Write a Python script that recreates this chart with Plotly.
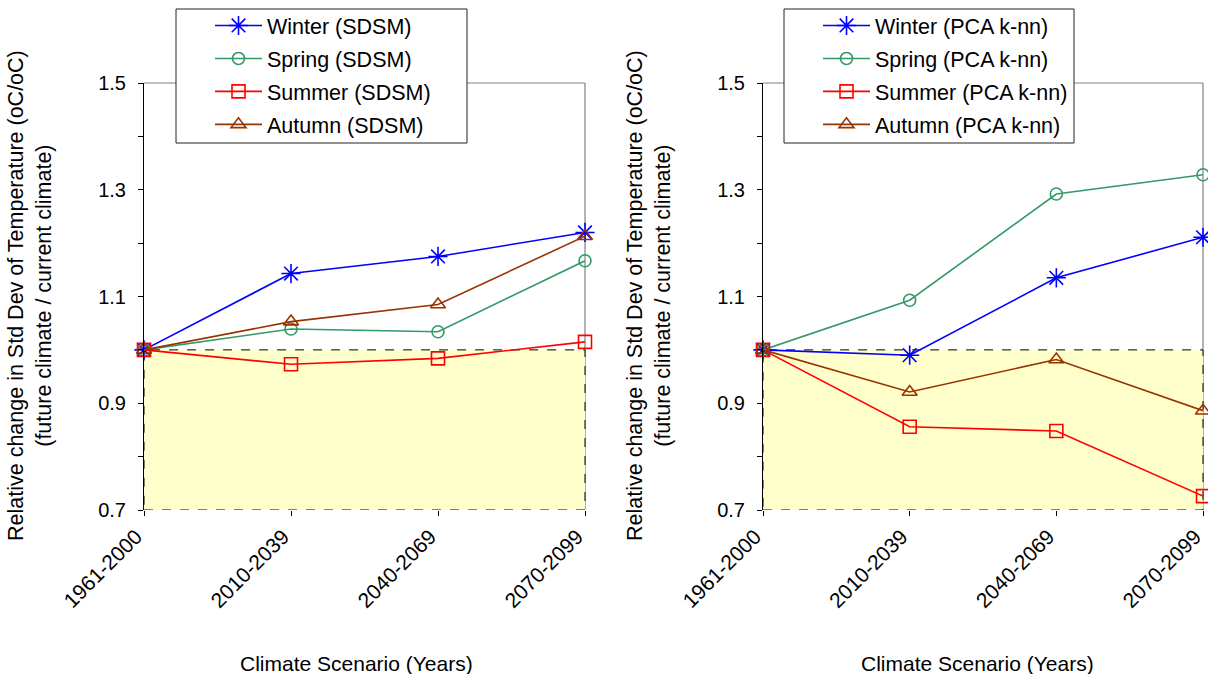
import plotly.graph_objects as go

# ---- data ----
periods = ["1961-2000", "2010-2039", "2040-2069", "2070-2099"]

sdsm_winter = [1.0, 1.143, 1.175, 1.220]
sdsm_spring = [1.0, 1.039, 1.034, 1.167]
sdsm_summer = [1.0, 0.973, 0.984, 1.015]
sdsm_autumn = [1.0, 1.053, 1.085, 1.213]

pca_winter = [1.0, 0.990, 1.135, 1.211]
pca_spring = [1.0, 1.093, 1.292, 1.328]
pca_summer = [1.0, 0.856, 0.848, 0.726]
pca_autumn = [1.0, 0.921, 0.982, 0.886]

season_names = ["Winter", "Spring", "Summer", "Autumn"]
y_ticks = [0.7, 0.9, 1.1, 1.3, 1.5]

colors = ["#0000FF", "#339966", "#FF0000", "#993300"]
symbols = ["asterisk-open", "circle-open", "square-open", "triangle-up-open"]
msizes = [16, 12, 13, 13]

FONT = "Arial, Liberation Sans, sans-serif"
W, H = 1208, 674

fig = go.Figure()

panels = [
    ("SDSM", [sdsm_winter, sdsm_spring, sdsm_summer, sdsm_autumn], "x", "y", "legend"),
    ("PCA k-nn", [pca_winter, pca_spring, pca_summer, pca_autumn], "x2", "y2", "legend2"),
]

for model, series, xa, ya, lg in panels:
    for name, vals, c, s, ms in zip(season_names, series, colors, symbols, msizes):
        fig.add_trace(go.Scatter(
            x=periods, y=vals, mode="lines+markers",
            name=f"{name} ({model})", legendgroup=f"{name}{model}",
            line=dict(color=c, width=1.6),
            marker=dict(symbol=s, size=ms, color=c, line=dict(color=c, width=1.6)),
            xaxis=xa, yaxis=ya, legend=lg, cliponaxis=False,
        ))

xdom = [[144 / W, 585 / W], [763 / W, 1203 / W]]
ydom = [1 - 510 / H, 1 - 83 / H]

axis_common_x = dict(
    type="category", range=[0, 3], showline=False, showgrid=False, zeroline=False,
    ticks="outside", ticklen=5, tickcolor="black", tickangle=-45, automargin=False,
    tickfont=dict(family=FONT, size=21, color="black"),
    ticklabelstandoff=0, ticklabelshift=-8,
)
axis_common_y = dict(
    range=[0.7, 1.5], tickvals=y_ticks, tickformat=".1f", showline=True,
    linecolor="black", linewidth=1, showgrid=False, zeroline=False, automargin=False,
    ticks="outside", ticklen=5, tickcolor="black",
    minor=dict(dtick=0.1, tick0=0.7, ticks="outside", ticklen=5, tickcolor="black"),
    tickfont=dict(family=FONT, size=20, color="black"), ticklabelstandoff=8,
)

fig.update_layout(
    xaxis=dict(domain=xdom[0], anchor="y", **axis_common_x),
    yaxis=dict(domain=ydom, anchor="x", **axis_common_y),
    xaxis2=dict(domain=xdom[1], anchor="y2", **axis_common_x),
    yaxis2=dict(domain=ydom, anchor="x2", **axis_common_y),
)

shapes = []
for xr, yr in [("x", "y"), ("x2", "y2")]:
    # plot frame: top and right edges
    shapes.append(dict(type="line", xref=f"{xr} domain", yref=f"{yr} domain",
                       x0=0, x1=1, y0=1, y1=1, line=dict(color="#808080", width=1.2), layer="below"))
    shapes.append(dict(type="line", xref=f"{xr} domain", yref=f"{yr} domain",
                       x0=1, x1=1, y0=0, y1=1, line=dict(color="#808080", width=1.2), layer="below"))
    # shaded region below 1.0
    shapes.append(dict(type="rect", xref=f"{xr} domain", yref=yr,
                       x0=0, x1=1, y0=0.7, y1=1.0, fillcolor="#FFFFCC",
                       line=dict(color="black", width=1, dash="dash"), layer="below"))

# legend boxes (white frame behind the transparent legends)
for lx0, lx1 in [(176, 467), (784, 1074)]:
    shapes.append(dict(type="rect", xref="paper", yref="paper",
                       x0=lx0 / W, x1=lx1 / W, y0=1 - 143 / H, y1=1 - 9 / H,
                       fillcolor="white", line=dict(color="#222222", width=1), layer="above"))

annotations = []
for cx in [30, 649]:
    annotations.append(dict(
        text="Relative change in Std Dev of Temperature (oC/oC)<br>(future climate / current climate)",
        textangle=-90, x=cx / W, y=1 - 296 / H, xref="paper", yref="paper",
        showarrow=False, font=dict(family=FONT, size=21.5, color="black"),
        xanchor="center", yanchor="middle",
    ))
for cx in [356, 977]:
    annotations.append(dict(
        text="Climate Scenario (Years)", x=cx / W, y=1 - 663 / H,
        xref="paper", yref="paper", showarrow=False,
        font=dict(family=FONT, size=21, color="black"), xanchor="center", yanchor="middle",
    ))

legend_common = dict(
    bgcolor="rgba(0,0,0,0)", borderwidth=0,
    font=dict(family=FONT, size=21.5, color="black"),
    xanchor="left", yanchor="top", itemwidth=47, indentation=34,
    tracegroupgap=2,
)

fig.update_layout(
    width=W, height=H,
    margin=dict(l=0, r=0, t=0, b=0),
    paper_bgcolor="white", plot_bgcolor="white",
    shapes=shapes, annotations=annotations,
    legend=dict(x=176 / W, y=1 - 5 / H, **legend_common),
    legend2=dict(x=784 / W, y=1 - 5 / H, **legend_common),
    showlegend=True,
)

fig.write_html("out.html", config={"displayModeBar": False},
               post_script="document.body.style.margin='0';")
